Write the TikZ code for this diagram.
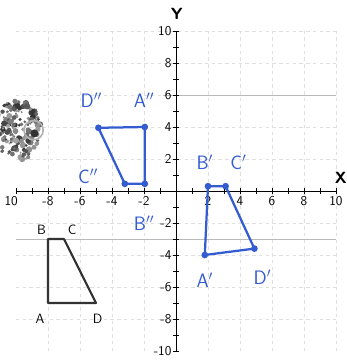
\documentclass[tikz,border=0pt]{standalone}
\usepackage{xcolor}
\usepackage{tikz}
\usetikzlibrary{positioning,calc}
\definecolor{penblue}{rgb}{0.2, 0.36, 0.82}

\begin{document}
\begin{tikzpicture}[x=0.5cm,y=0.5cm,font=\sffamily,
    penlabel/.style={text=penblue,font=\sffamily\LARGE,inner sep=0pt},
    vertexdot/.style={circle,fill=penblue,inner sep=0pt,minimum size=6pt}]
    \useasboundingbox (-11,-10.5625) rectangle (10.6875,11.9375);
    % Grid
    \draw[gray!25,dashed] (-10,-10) grid (10,10);
    \draw[gray!55] (-0.8,6) -- (10,6);
    \draw[gray!55] (-10,-3) -- (10,-3);
    % Axes
    \draw[thick] (-10,0) -- (10,0);
    \draw[thick] (0,-10) -- (0,10);
    \node[font=\sffamily\Large\bfseries] (ylab) at (0.05,11.1) {Y};
    \node[font=\sffamily\Large\bfseries] (xlab) at (10.3,0.8) {X};
    \foreach \i in {-10,...,10} {
        \draw (\i,-0.2) -- (\i,0.2);
        \draw (-0.2,\i) -- (0.2,\i);
    }
    \foreach \i in {-8,-6,-4,-2,2,4,6,8,10} {
        \node[anchor=north,font=\sffamily\large,inner sep=1pt] (xt\i) at (\i,-0.25) {\i};
    }
    \node[anchor=north,font=\sffamily\large,inner sep=1pt] (xtm10) at (-10.3,-0.25) {10};
    \foreach \i in {-10,-8,-6,-4,-2,2,4,6,8,10} {
        \node[anchor=east,font=\sffamily\large,inner sep=1pt] (yt\i) at (-0.2,\i) {\i};
    }

    % Smudge
    \pgfmathsetseed{7}
    \foreach \k in {1,...,160} {
        \pgfmathsetmacro{\ang}{360*rnd}
        \pgfmathsetmacro{\rad}{sqrt(rnd)}
        \pgfmathsetmacro{\shade}{35+45*rnd}
        \fill[black!\shade] ({-9.9+1.5*\rad*cos(\ang)},{3.8+1.9*\rad*sin(\ang)}) circle ({0.06+0.14*rnd});
    }
    \draw[black!30,line width=1.5pt] (-8.9,3.8) circle (0.6);
    \fill[black!80] (-8.85,3.6) circle (0.25);

    % Original ABCD
    \coordinate (A) at (-8,-7);
    \coordinate (B) at (-8,-3);
    \coordinate (C) at (-7,-3);
    \coordinate (D) at (-5,-7);
    \draw[black!80,line width=1.8pt,line join=round] (A) -- (B) -- (C) -- (D) -- cycle;
    \node[font=\sffamily\large] (Alab) at (-8.5,-8.0) {A};
    \node[font=\sffamily\large] (Blab) at (-8.4,-2.4) {B};
    \node[font=\sffamily\large] (Clab) at (-6.5,-2.4) {C};
    \node[font=\sffamily\large] (Dlab) at (-4.9,-8.0) {D};

    % First image
    \coordinate (A1) at (1.8,-4);
    \coordinate (B1) at (2,0.3);
    \coordinate (C1) at (3.1,0.3);
    \coordinate (D1) at (4.9,-3.6);
    \draw[penblue,line width=2pt,line join=round] (A1) -- (B1) -- (C1) -- (D1) -- cycle;
    \foreach \v in {A1,B1,C1,D1} {
        \node[vertexdot] at (\v) {};
    }
    \node[penlabel] (A1lab) at (1.8,-5.6) {A$'$};
    \node[penlabel] (B1lab) at (1.8,1.8) {B$'$};
    \node[penlabel] (C1lab) at (3.9,1.8) {C$'$};
    \node[penlabel] (D1lab) at (5.4,-5.4) {D$'$};

    % Second image
    \coordinate (A2) at (-1.95,4);
    \coordinate (B2) at (-1.95,0.45);
    \coordinate (C2) at (-3.2,0.45);
    \coordinate (D2) at (-4.85,3.95);
    \draw[penblue,line width=2pt,line join=round] (A2) -- (B2) -- (C2) -- (D2) -- cycle;
    \foreach \v in {A2,B2,C2,D2} {
        \node[vertexdot] at (\v) {};
    }
    \node[penlabel] (A2lab) at (-2.0,5.7) {A$''$};
    \node[penlabel] (B2lab) at (-2.0,-2.0) {B$''$};
    \node[penlabel] (C2lab) at (-5.5,0.9) {C$''$};
    \node[penlabel] (D2lab) at (-5.3,5.7) {D$''$};
\end{tikzpicture}
\end{document}
